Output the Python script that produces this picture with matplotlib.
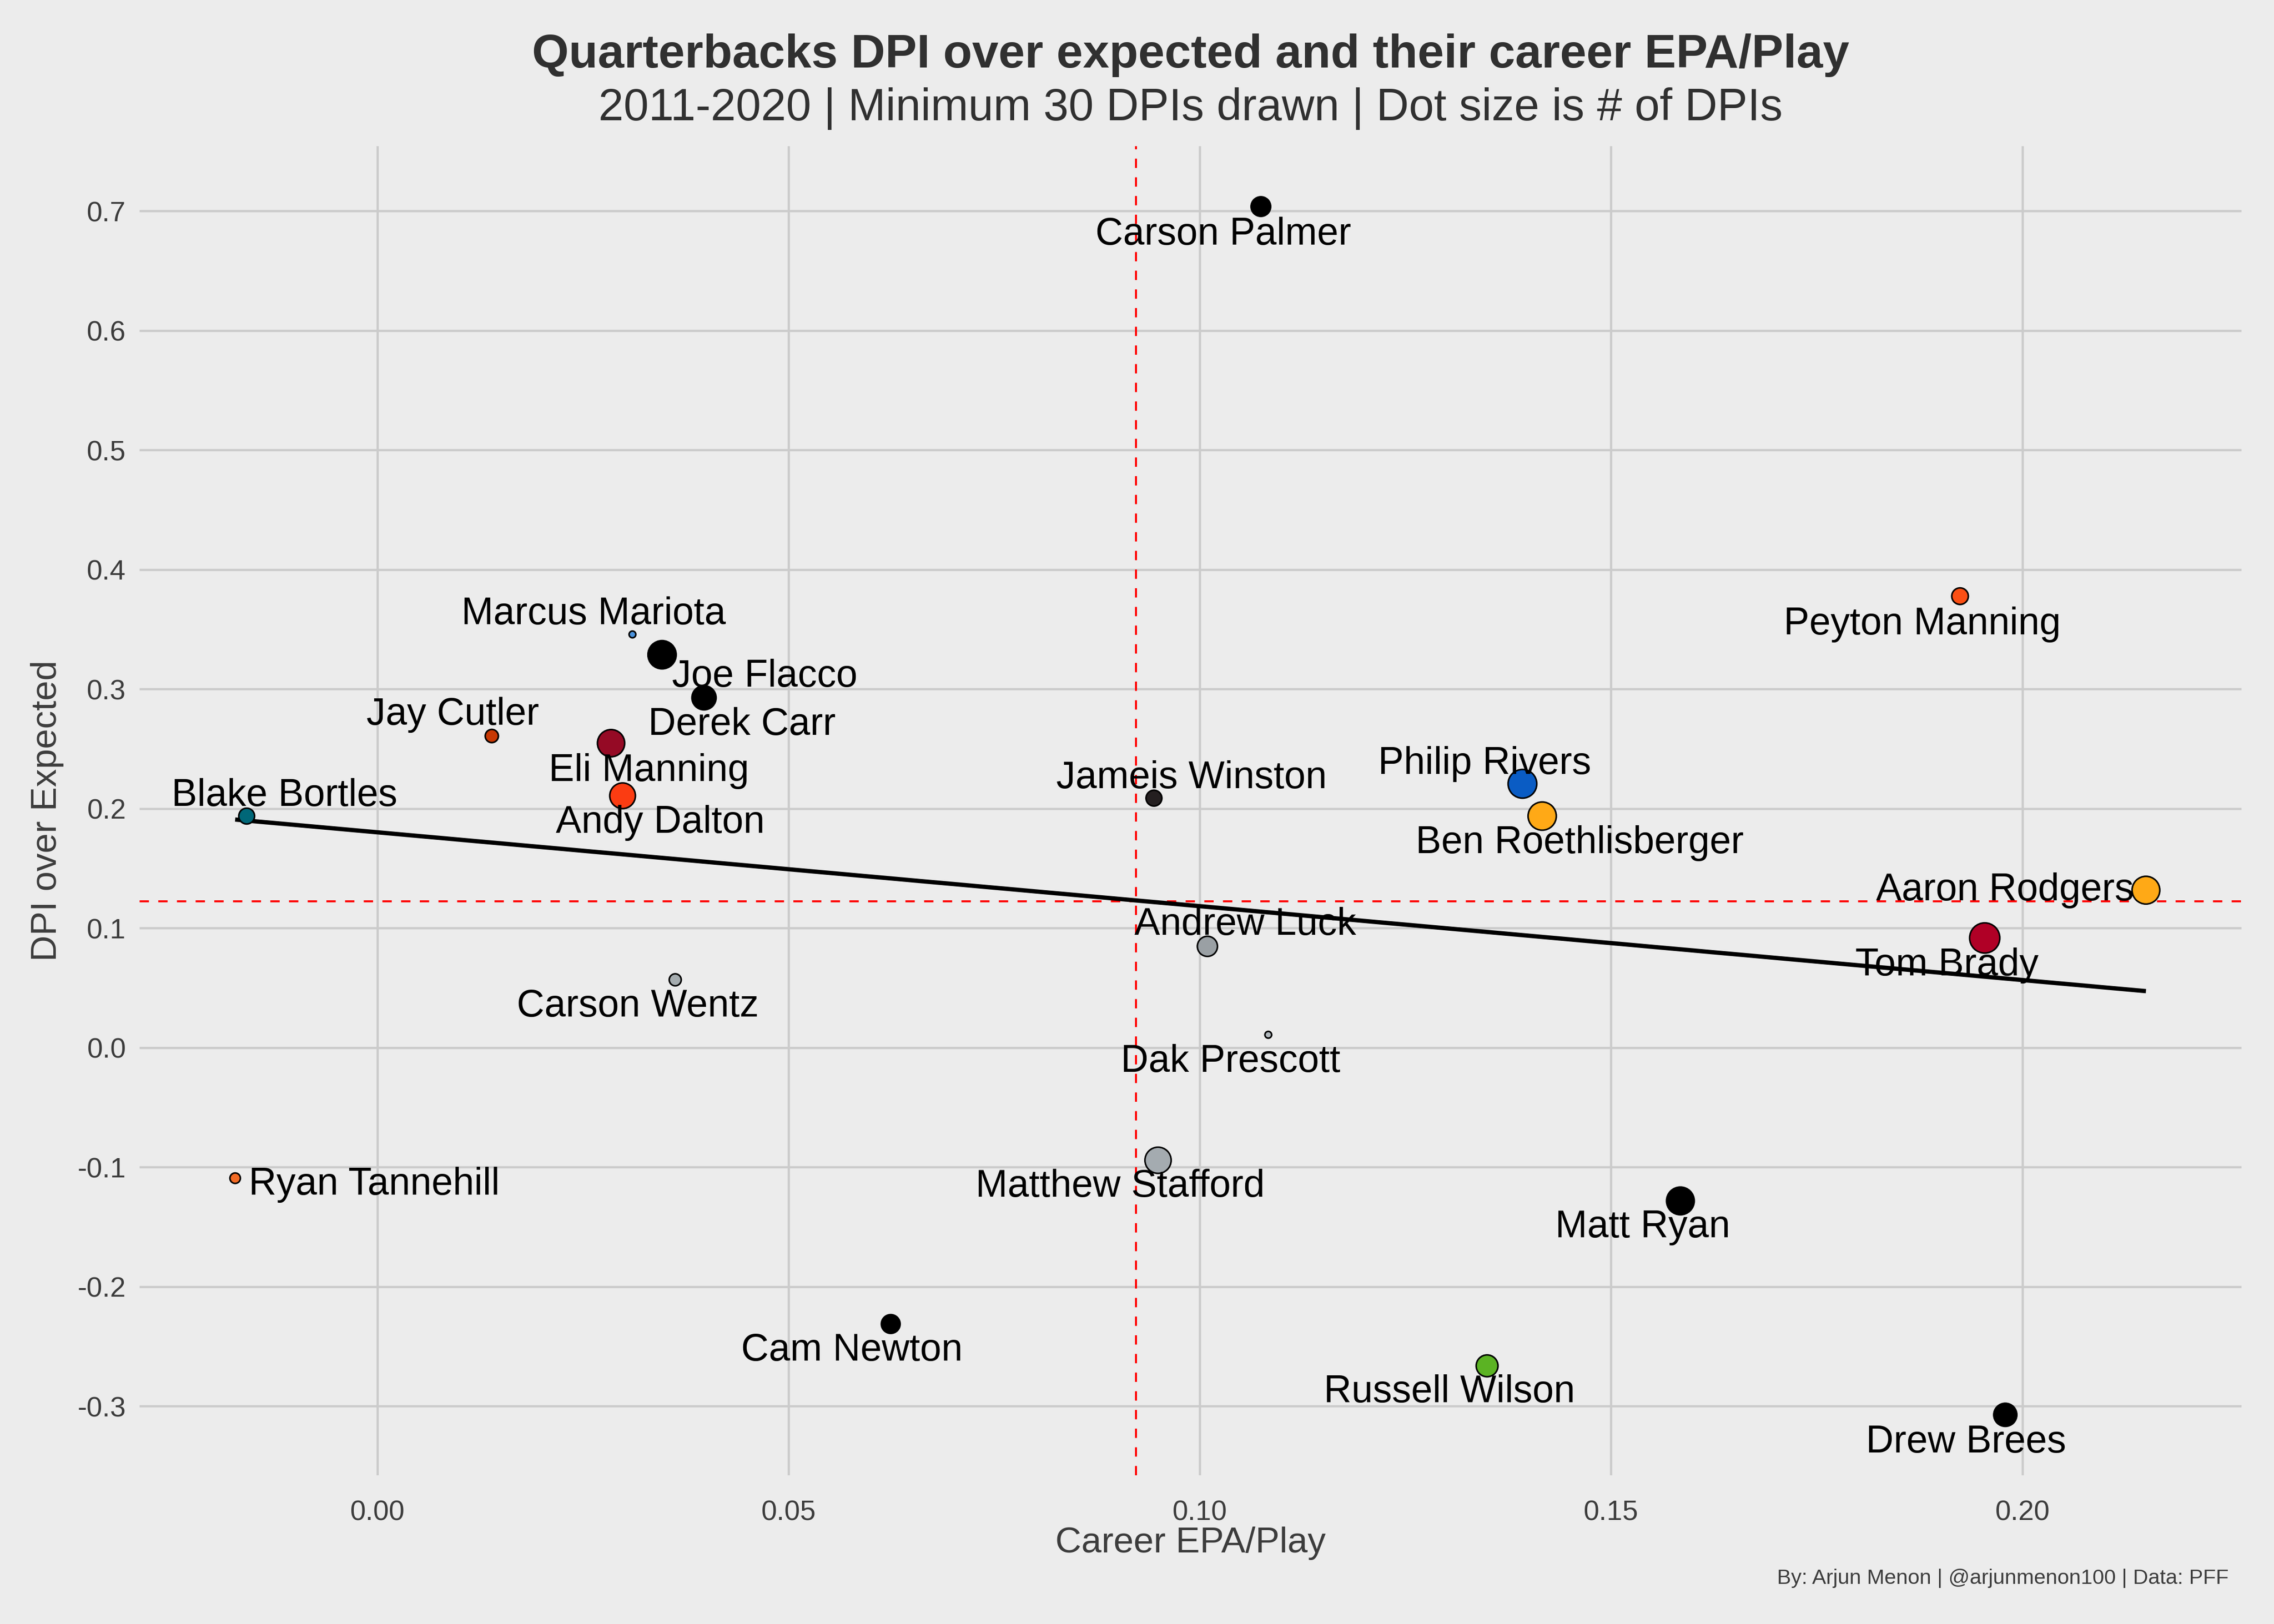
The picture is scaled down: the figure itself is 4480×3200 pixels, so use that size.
import numpy as np
import matplotlib
matplotlib.use("Agg")
import matplotlib.pyplot as plt
from matplotlib.ticker import FixedLocator, FuncFormatter

# ---------------- data ----------------
players = ["Carson Palmer", "Peyton Manning", "Marcus Mariota", "Joe Flacco", "Derek Carr",
           "Jay Cutler", "Eli Manning", "Andy Dalton", "Blake Bortles", "Jameis Winston",
           "Philip Rivers", "Ben Roethlisberger", "Aaron Rodgers", "Tom Brady", "Andrew Luck",
           "Carson Wentz", "Dak Prescott", "Ryan Tannehill", "Matthew Stafford", "Matt Ryan",
           "Cam Newton", "Russell Wilson", "Drew Brees"]
epa_play = [0.1074, 0.1924, 0.0310, 0.0346, 0.0397,
            0.0139, 0.0284, 0.0298, -0.0159, 0.0944,
            0.1392, 0.1416, 0.2150, 0.1954, 0.1009,
            0.0362, 0.1083, -0.0173, 0.0949, 0.1584,
            0.0624, 0.1349, 0.1979]
dpi_oe = [0.704, 0.378, 0.346, 0.329, 0.293,
          0.261, 0.255, 0.211, 0.194, 0.209,
          0.221, 0.194, 0.132, 0.092, 0.085,
          0.057, 0.011, -0.109, -0.094, -0.128,
          -0.231, -0.266, -0.307]
dpis_drawn = [54, 44, 30, 97, 74,
              36, 91, 82, 42, 42,
              100, 97, 94, 110, 56,
              34, 30, 32, 85, 94,
              51, 63, 69]
team_colors = ["#000000", "#FB4F14", "#4B92DB", "#000000", "#000000",
               "#C83803", "#950A25", "#FB3C12", "#006778", "#241F20",
               "#0A5CC4", "#FFA916", "#FFA916", "#B00026", "#9AA0A4",
               "#A5ACAF", "#B0B7BC", "#F26A24", "#A4ABB0", "#000000",
               "#000000", "#5BB323", "#000000"]
mean_epa_line = 0.0922
mean_dpi_line = 0.1227

title = "Quarterbacks DPI over expected and their career EPA/Play"
subtitle = "2011-2020 | Minimum 30 DPIs drawn | Dot size is # of DPIs"
caption = "By: Arjun Menon | @arjunmenon100 | Data: PFF"
x_label = "Career EPA/Play"
y_label = "DPI over Expected"
x_ticks = [0.00, 0.05, 0.10, 0.15, 0.20]
y_ticks = [-0.3, -0.2, -0.1, 0.0, 0.1, 0.2, 0.3, 0.4, 0.5, 0.6, 0.7]

# label placement (offset in points from each dot)
label_offsets = {
    "Carson Palmer": (-16.7, -12.5), "Peyton Manning": (-16.7, -12.5),
    "Marcus Mariota": (-17.3, 8.8), "Joe Flacco": (45.6, -9.8),
    "Derek Carr": (16.7, -12.0), "Jay Cutler": (-17.3, 9.5),
    "Eli Manning": (16.7, -12.3), "Andy Dalton": (16.7, -12.0),
    "Blake Bortles": (16.7, 8.8), "Jameis Winston": (16.7, 8.8),
    "Philip Rivers": (-16.7, 8.8), "Ben Roethlisberger": (16.7, -12.0),
    "Aaron Rodgers": (-62.4, -0.2), "Tom Brady": (-16.7, -12.3),
    "Andrew Luck": (16.7, 9.5), "Carson Wentz": (-16.7, -12.0),
    "Dak Prescott": (-16.7, -12.0), "Ryan Tannehill": (61.7, -2.8),
    "Matthew Stafford": (-16.7, -11.8), "Matt Ryan": (-16.7, -11.8),
    "Cam Newton": (-17.3, -11.8), "Russell Wilson": (-16.7, -11.8),
    "Drew Brees": (-17.3, -12.3),
}

# ---------------- style ----------------
BG = "#ECECEC"
TXT = "#3C3C3C"
TITLE_C = "#303030"
plt.rcParams['font.family'] = ['Liberation Sans', 'DejaVu Sans']

fig = plt.figure(figsize=(14, 10), dpi=320, facecolor=BG)
ax = fig.add_axes([0.0614, 0.0916, 0.9857 - 0.0614, 0.910 - 0.0916])
ax.set_facecolor(BG)
for s in ax.spines.values():
    s.set_visible(False)

x = np.array(epa_play)
y = np.array(dpi_oe)
n = np.array(dpis_drawn, dtype=float)

# size scale (area-like, ggplot scale_size style)
dmin, dmax = 3.0, 13.4
diam = dmin + (dmax - dmin) * np.sqrt((n - n.min()) / (n.max() - n.min()))
sizes = diam ** 2

ax.grid(True, color="#CBCBCB", linewidth=1.0, zorder=0)
ax.set_axisbelow(True)

# mean lines
ax.axvline(mean_epa_line, color="#FF0000", linewidth=0.9, linestyle=(0, (4.6, 4.6)), zorder=1)
ax.axhline(mean_dpi_line, color="#FF0000", linewidth=0.9, linestyle=(0, (4.6, 4.6)), zorder=1)

# linear fit
coef = np.polyfit(x, y, 1)
xx = np.array([x.min(), x.max()])
ax.plot(xx, np.polyval(coef, xx), color="black", linewidth=1.9, zorder=2, solid_capstyle="butt")

ax.scatter(x, y, s=sizes, c=team_colors, edgecolors="black", linewidths=0.7, zorder=3)

for name, xi, yi in zip(players, x, y):
    dx, dy = label_offsets[name]
    ax.annotate(name, (xi, yi), xytext=(dx, dy), textcoords="offset points",
                ha="center", va="center", fontsize=17, color="black", zorder=4)

xr = x.max() - x.min()
yr = y.max() - y.min()
ax.set_xlim(x.min() - 0.05 * xr, x.max() + 0.05 * xr)
ax.set_ylim(y.min() - 0.05 * yr, y.max() + 0.05 * yr)

ax.xaxis.set_major_locator(FixedLocator(x_ticks))
ax.yaxis.set_major_locator(FixedLocator(y_ticks))
ax.xaxis.set_major_formatter(FuncFormatter(lambda v, p: f"{v:.2f}"))
ax.yaxis.set_major_formatter(FuncFormatter(lambda v, p: f"{v:.1f}".replace("\u2212", "-")))
ax.tick_params(axis="x", length=0, labelsize=12.5, labelcolor=TXT, pad=11)
ax.tick_params(axis="y", length=0, labelsize=12.5, labelcolor=TXT, pad=6)

ax.set_xlabel(x_label, fontsize=16, color=TXT, labelpad=0)
ax.set_ylabel(y_label, fontsize=16, color=TXT, labelpad=6)

cx = (0.0614 + 0.9857) / 2
fig.text(cx, 0.966, title, ha="center", va="center", fontsize=21, fontweight="bold", color=TITLE_C)
fig.text(cx, 0.933, subtitle, ha="center", va="center", fontsize=20, color=TITLE_C)
fig.text(0.980, 0.028, caption, ha="right", va="center", fontsize=9.3, color=TXT)

fig.savefig("out.png", dpi=320, facecolor=BG)
